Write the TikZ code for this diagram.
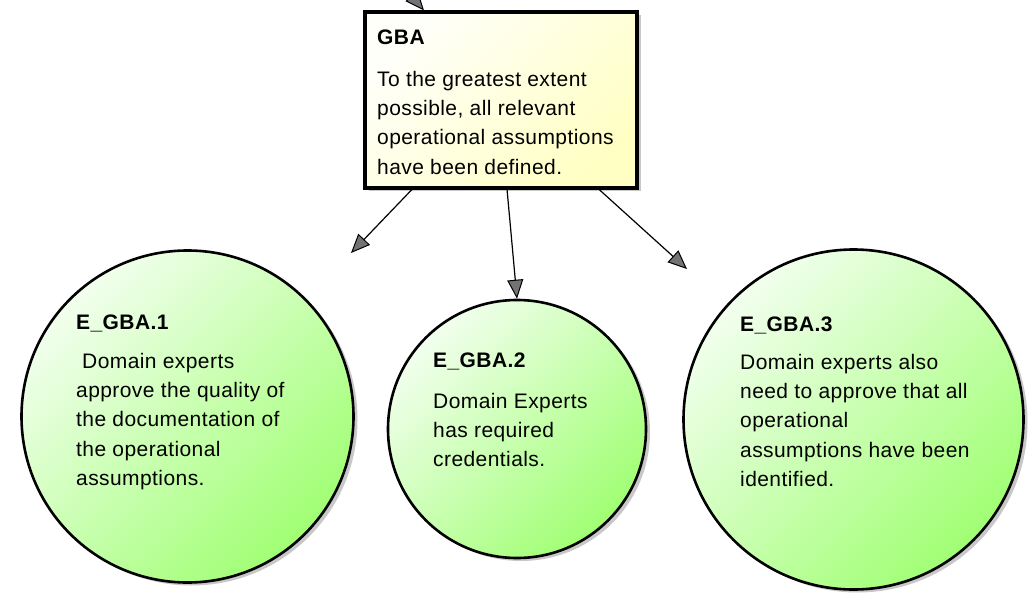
\documentclass[tikz,border=0pt]{standalone}
\usepackage{fontspec}
\setmainfont[LetterSpace=2]{Liberation Sans}
\usetikzlibrary{arrows.meta,shadows,calc}
\definecolor{boxlight}{RGB}{255,255,250}
\definecolor{boxdark}{RGB}{255,255,196}
\definecolor{grnlight}{RGB}{242,255,238}
\definecolor{grndark}{RGB}{160,255,115}
\tikzset{
  gbox/.style={draw=black, line width=3.2pt, rectangle, inner sep=0,
    top color=boxlight, bottom color=boxdark, shading angle=45,
    drop shadow={shadow xshift=4pt, shadow yshift=-3pt, fill=black!30, opacity=0.7}},
  gcirc/.style={draw=black, line width=2.6pt, circle, inner sep=0,
    top color=grnlight, bottom color=grndark, shading angle=45,
    drop shadow={shadow xshift=4pt, shadow yshift=-3pt, fill=black!30, opacity=0.7}},
  txt/.style={anchor=base west, inner sep=0, font=\fontsize{21}{29.4}\selectfont},
  ttl/.style={anchor=base west, inner sep=0, font=\fontsize{21}{29.4}\selectfont\bfseries},
  conn/.style={draw=black, line width=1.2pt,
    -{Triangle[length=19pt, width=16pt, fill=black!55, line width=1pt]}},
}
\begin{document}
\begin{tikzpicture}[x=1pt, y=-1pt]
\useasboundingbox (0,0) rectangle (1029,597);
\clip (0,0) rectangle (1029,597);
\fill[white] (0,0) rectangle (1029,597);

% nodes
\node[gbox, minimum width=272pt, minimum height=176pt] (gba) at (501,100) {};
\node[gcirc, minimum size=332pt] (e1) at (187.5,416.5) {};
\node[gcirc, minimum size=258pt] (e2) at (517,429) {};
\node[gcirc, minimum size=340pt] (e3) at (853.5,419.5) {};

% texts
\node[ttl] (gbat) at (377,45) {GBA};
\node[txt] (gbab) at (377,86) {\parbox[t]{300pt}{To the greatest extent\\possible, all relevant\\operational assumptions\\have been defined.}};

\node[ttl] (e1t) at (76,329) {E\_GBA.1};
\node[txt] (e1b) at (76,368) {\parbox[t]{300pt}{\hspace*{6pt}Domain experts\\approve the quality of\\the documentation of\\the operational\\assumptions.}};

\node[ttl] (e2t) at (433,367) {E\_GBA.2};
\node[txt] (e2b) at (433,408) {\parbox[t]{300pt}{Domain Experts\\has required\\credentials.}};

\node[ttl] (e3t) at (740,331) {E\_GBA.3};
\node[txt] (e3b) at (740,369) {\parbox[t]{300pt}{Domain experts also\\need to approve that all\\operational\\assumptions have been\\identified.}};

% free ends
\coordinate (tipA) at (351,253);
\coordinate (tipC) at (687,269);
\coordinate (topsrc) at (405,-12);

% connectors
\draw[conn] ($(gba.south west)!0.176!(gba.south east)$) -- (tipA);
\draw[conn] ($(gba.south west)!0.522!(gba.south east)$) -- (e2.north);
\draw[conn] ($(gba.south west)!0.857!(gba.south east)$) -- (tipC);
\draw[conn] (topsrc) -- ($(gba.north west)!0.22!(gba.north east)$);
\end{tikzpicture}
\end{document}
